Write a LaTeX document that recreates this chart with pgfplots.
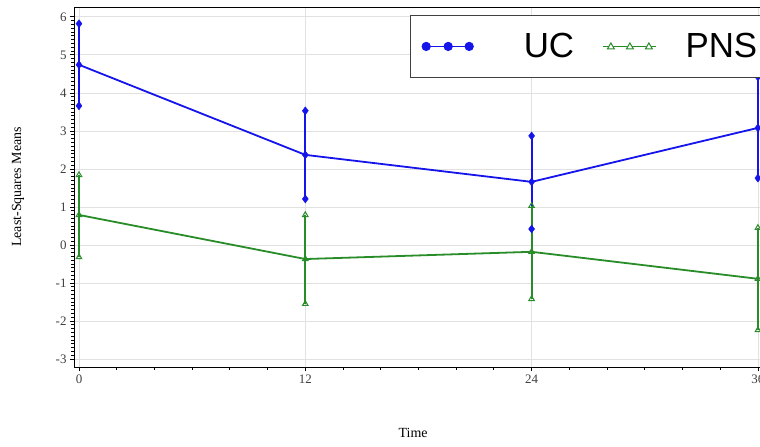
\documentclass[border=0pt]{standalone}
\usepackage{pgfplots}
\usepackage{pgfplotstable}
\pgfplotsset{compat=1.18}
\usepackage{fontspec}
\setmainfont{Liberation Serif}
\newfontfamily\legfont{Liberation Sans}
\definecolor{ucblue}{RGB}{20,20,235}
\definecolor{pnsgreen}{RGB}{40,140,40}
\definecolor{gridgray}{RGB}{225,225,225}
\pgfplotstableread{
t m lo hi
0 4.74 3.66 5.82
12 2.37 1.21 3.53
24 1.66 0.42 2.87
36 3.08 1.76 4.42
}\uc
\pgfplotstableread{
t m lo hi
0 0.79 -0.32 1.84
12 -0.37 -1.55 0.79
24 -0.18 -1.42 1.03
36 -0.89 -2.24 0.45
}\pns
\begin{document}
\begin{tikzpicture}
\begin{axis}[
  at={(74bp,80bp)}, anchor=south west,
  scale only axis, width=702bp, height=360bp,
  xmin=-0.265, xmax=36.96, ymin=-3.21, ymax=6.26,
  xtick={0,12,24,36}, ytick={-3,-2,...,6},
  minor x tick num=5, minor y tick num=9,
  tick align=outside, xtick pos=left, ytick pos=left,
  major tick length=4bp, minor tick length=2.5bp,
  every tick/.style={black, line width=0.8bp},
  ymajorgrids, xmajorgrids,
  grid style={gridgray, line width=0.8bp},
  axis line style={black, line width=0.9bp},
  /pgf/number format/assume math mode=true,
  ticklabel style={font=\fontsize{13}{13}\selectfont, text=black!75},
  xlabel={Time}, ylabel={Least-Squares Means},
  every axis x label/.style={at={(axis description cs:0.483,-0.183)}, anchor=center, font=\fontsize{14}{14}\selectfont},
  every axis y label/.style={at={(axis description cs:-0.0798,0.5)}, rotate=90, anchor=center, font=\fontsize{14}{14}\selectfont},
  legend style={at={(axis description cs:0.4786,0.978)}, anchor=north west,
    draw=black!75, line width=1.2bp, inner xsep=10bp, inner ysep=18bp,
    nodes={inner sep=0bp},
    font=\legfont\fontsize{35}{35}\selectfont,
    /tikz/every even column/.append style={column sep=28bp}},
  legend columns=2,
]
% UC bars
\addplot[ucblue, line width=1.8bp, forget plot] coordinates {(0,3.66) (0,5.82)};
\addplot[ucblue, line width=1.8bp, forget plot] coordinates {(12,1.21) (12,3.53)};
\addplot[ucblue, line width=1.8bp, forget plot] coordinates {(24,0.42) (24,2.87)};
\addplot[ucblue, line width=1.8bp, forget plot] coordinates {(36,1.76) (36,4.42)};
% PNS bars
\addplot[pnsgreen, line width=1.8bp, forget plot] coordinates {(0,-0.32) (0,1.84)};
\addplot[pnsgreen, line width=1.8bp, forget plot] coordinates {(12,-1.55) (12,0.79)};
\addplot[pnsgreen, line width=1.8bp, forget plot] coordinates {(24,-1.42) (24,1.03)};
\addplot[pnsgreen, line width=1.8bp, forget plot] coordinates {(36,-2.24) (36,0.45)};
% mean lines
\addplot[ucblue, line width=1.8bp, forget plot] table[x=t, y=m] {\uc};
\addplot[pnsgreen, line width=1.8bp, forget plot] table[x=t, y=m] {\pns};
% marks
\pgfplotsset{ucm/.style={ucblue, only marks, mark=diamond*, mark size=4bp, forget plot},
  pnsm/.style={pnsgreen, only marks, mark=triangle, mark size=3.2bp, mark options={line width=1bp, fill=white}, forget plot}}
\addplot[pnsm] table[x=t, y=m] {\pns};
\addplot[pnsm] table[x=t, y=lo] {\pns};
\addplot[pnsm] table[x=t, y=hi] {\pns};
\addplot[ucm] table[x=t, y=m] {\uc};
\addplot[ucm] table[x=t, y=lo] {\uc};
\addplot[ucm] table[x=t, y=hi] {\uc};
% legend
\addlegendimage{legend image code/.code={
  \draw[ucblue, line width=1.8bp] (5bp,0bp) -- (48bp,0bp);
  \fill[ucblue] (5bp,0bp) circle (4bp) (27bp,0bp) circle (4bp) (48bp,0bp) circle (4bp);
  \path (0bp,0bp) (102bp,0bp);}}
\addlegendentry{UC}
\addlegendimage{legend image code/.code={
  \draw[pnsgreen, line width=1.5bp] (0bp,0bp) -- (53bp,0bp);
  \foreach \xx in {8,27,46} {\draw[pnsgreen, line width=1bp, fill=white] (\xx bp,3.5bp) -- (\xx bp-3.5bp,-2.5bp) -- (\xx bp+3.5bp,-2.5bp) -- cycle;}
  \path (0bp,0bp) (82bp,0bp);}}
\addlegendentry{PNS\hspace{20bp}}
\end{axis}
\pgfresetboundingbox
\path[use as bounding box] (0,0) rectangle (760bp,447bp);
\end{tikzpicture}
\end{document}
